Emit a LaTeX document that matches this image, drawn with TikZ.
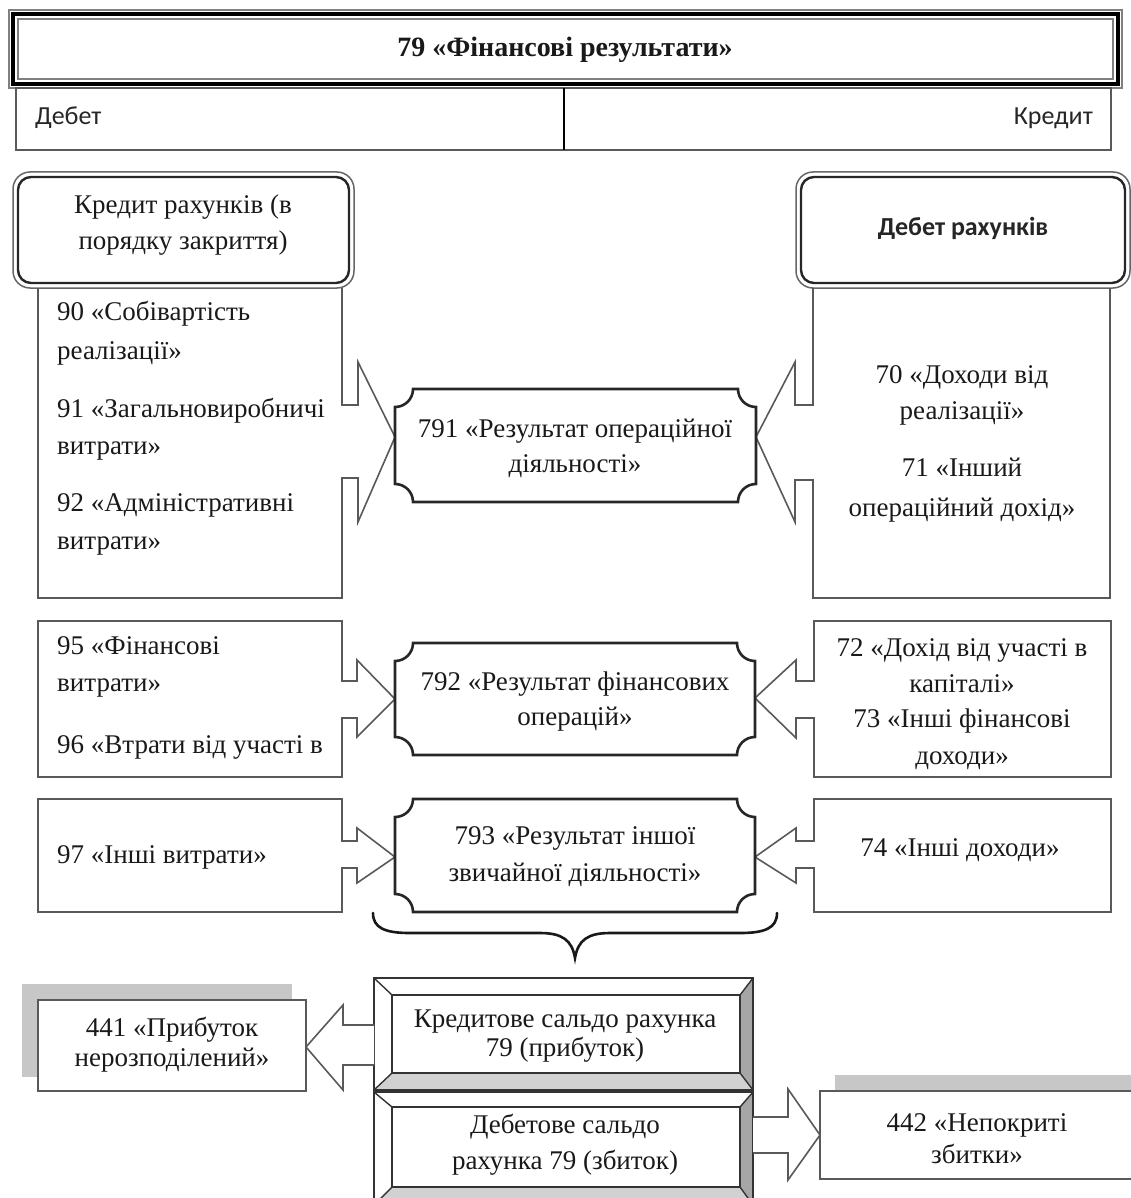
\documentclass[tikz,border=0pt]{standalone}
\usepackage{fontspec}
\setmainfont{Liberation Serif}
\newfontfamily\sansf{Carlito}
\usetikzlibrary{calc}
\newcommand\plaqbox[4]{%
 \draw[plq] ({#1+18},#2) -- ({#3-18},#2) .. controls ({#3-18},{#2+10}) and ({#3-10},{#2+18}) .. (#3,{#2+18})
  -- (#3,{#4-18}) .. controls ({#3-10},{#4-18}) and ({#3-18},{#4-10}) .. ({#3-18},#4)
  -- ({#1+18},#4) .. controls ({#1+18},{#4-10}) and ({#1+10},{#4-18}) .. (#1,{#4-18})
  -- (#1,{#2+18}) .. controls ({#1+10},{#2+18}) and ({#1+18},{#2+10}) .. ({#1+18},#2) -- cycle;}
\begin{document}
\begin{tikzpicture}[x=1pt,y=-1pt,
  ln/.style={draw=black!65, line width=1.6pt},
  plq/.style={draw=black!85, line width=2.6pt, fill=white},
  tx/.style={font=\fontsize{27}{37}\selectfont, text=black!90, inner sep=0pt},
  txc/.style={tx, align=center},
  txl/.style={tx, align=left, anchor=west},
  sns/.style={font=\sansf\fontsize{26}{30}\selectfont, text=black!85, inner sep=0pt},
  bev/.style={draw=black!80, line width=1.4pt},
]
\useasboundingbox (0,0) rectangle (1131,1198);
\clip (0,0) rectangle (1131,1198);

% ---- title frame
\draw[black!50, line width=1.5pt] (9,10) rectangle (1122,88);
\draw[black, line width=3.2pt] (13,14) rectangle (1118,84);
\draw[black!50, line width=1.4pt] (18,19) rectangle (1113,79);
\node[tx, font=\bfseries\fontsize{28}{32}\selectfont] (title) at (565,50) {79 «Фінансові результати»};

% ---- debit / credit row
\draw[ln] (16,88) rectangle (1111,150);
\draw[black, line width=2.4pt] (564,88) -- (564,150);
\node[sns, anchor=west] (deb) at (35,118) {Дебет};
\node[sns, anchor=east] (kred) at (1093,118) {Кредит};

% ---- column headers
\draw[black!60, line width=1.5pt, rounded corners=17] (13,172) rectangle (354,288);
\draw[black!85, line width=2.4pt, rounded corners=13] (18,177) rectangle (349,283);
\node[txc, font=\fontsize{27}{36}\selectfont] (lhead) at (183,225) {Кредит рахунків (в\\порядку закриття)};
\draw[black!60, line width=1.5pt, rounded corners=17] (796,172) rectangle (1130,288);
\draw[black!85, line width=2.4pt, rounded corners=13] (801,177) rectangle (1125,283);
\node[sns, font=\sansf\bfseries\fontsize{26}{30}\selectfont] (rhead) at (963,228) {Дебет рахунків};

% ---- row 1
\draw[ln] (342,288) -- (342,405) -- (358,405) -- (358,362) -- (395,437) -- (358,522) -- (358,478) -- (342,478) -- (342,598) -- (38,598) -- (38,288);
\draw[ln] (813,288) -- (813,405) -- (795,405) -- (795,362) -- (756,437) -- (795,522) -- (795,480) -- (813,480) -- (813,598) -- (1110,598) -- (1110,288);
\plaqbox{395}{389}{756}{502}
\node[txc, font=\fontsize{27}{35}\selectfont] (p791) at (575,448) {791 «Результат операційної\\діяльності»};
\node[txl, font=\fontsize{27}{39}\selectfont] (a90) at (57,333) {90 «Собівартість\\реалізації»};
\node[txl] (a91) at (57,429) {91 «Загальновиробничі\\витрати»};
\node[txl, font=\fontsize{27}{38}\selectfont] (a92) at (57,524) {92 «Адміністративні\\витрати»};
\node[txc, font=\fontsize{27}{36}\selectfont] (a70) at (962,395) {70 «Доходи від\\реалізації»};
\node[txc, font=\fontsize{27}{40}\selectfont] (a71) at (962,490) {71 «Інший\\операційний дохід»};

% ---- row 2
\draw[ln] (38,621) -- (342,621) -- (342,681) -- (357,681) -- (357,660) -- (395,699) -- (357,737) -- (357,718) -- (342,718) -- (342,777) -- (38,777) -- cycle;
\draw[ln] (1111,621) -- (814,621) -- (814,681) -- (796,681) -- (796,660) -- (755,698) -- (796,738) -- (796,718) -- (814,718) -- (814,777) -- (1111,777) -- cycle;
\plaqbox{395}{643}{755}{755}
\node[txc, font=\fontsize{27}{35}\selectfont] (p792) at (575,701) {792 «Результат фінансових\\операцій»};
\node[txl] (a95) at (57,667) {95 «Фінансові\\витрати»};
\node[txl] (a96) at (57,747) {96 «Втрати від участі в};
\node[txc, font=\fontsize{27}{36}\selectfont] (a72) at (962,666) {72 «Дохід від участі в\\капіталі»};
\node[txc, font=\fontsize{27}{37}\selectfont] (a73) at (962,739) {73 «Інші фінансові\\доходи»};

% ---- row 3
\draw[ln] (38,799) -- (342,799) -- (342,841) -- (357,841) -- (357,828) -- (395,857) -- (357,883) -- (357,868) -- (342,868) -- (342,912) -- (38,912) -- cycle;
\draw[ln] (1111,799) -- (814,799) -- (814,841) -- (796,841) -- (796,828) -- (755,857) -- (796,883) -- (796,868) -- (814,868) -- (814,912) -- (1111,912) -- cycle;
\plaqbox{395}{799}{755}{912}
\node[txc] (p793) at (575,857) {793 «Результат іншої\\звичайної діяльності»};
\node[txl] (a97) at (57,857) {97 «Інші витрати»};
\node[tx] (a74) at (960,850) {74 «Інші доходи»};

% ---- brace
\draw[black!90, line width=2.6pt, line cap=round] (373,913) .. controls (373,928) and (385,933) .. (410,933) -- (540,933) .. controls (562,933) and (572,940) .. (575,958) .. controls (578,940) and (588,933) .. (610,933) -- (740,933) .. controls (765,933) and (777,928) .. (777,913);

% ---- bevel boxes
\fill[white] (374,978) rectangle (753,1090);
\fill[black!35] (753,978) -- (753,1090) -- (740,1073) -- (740,995) -- cycle;
\fill[black!18] (374,1090) -- (753,1090) -- (740,1073) -- (392,1073) -- cycle;
\draw[bev] (374,978) rectangle (753,1090);
\draw[bev] (392,995) rectangle (740,1073);
\draw[bev] (374,978) -- (392,995) (753,978) -- (740,995) (374,1090) -- (392,1073) (753,1090) -- (740,1073);
\node[txc, font=\fontsize{27}{29}\selectfont] (kbal) at (565,1036) {Кредитове сальдо рахунка\\79 (прибуток)};

\fill[white] (374,1092) rectangle (753,1205);
\fill[black!35] (753,1092) -- (753,1205) -- (740,1187) -- (740,1107) -- cycle;
\fill[black!18] (374,1205) -- (753,1205) -- (740,1187) -- (392,1187) -- cycle;
\draw[bev] (374,1092) rectangle (753,1205);
\draw[bev] (392,1107) rectangle (740,1187);
\draw[bev] (374,1092) -- (392,1107) (753,1092) -- (740,1107) (374,1205) -- (392,1187) (753,1205) -- (740,1187);
\node[txc, font=\fontsize{27}{36}\selectfont] (dbal) at (565,1145) {Дебетове сальдо\\рахунка 79 (збиток)};

% ---- 441
\fill[black!22] (22,984) rectangle (292,1077);
\draw[ln, fill=white] (38,1000) rectangle (306,1091);
\node[txc, font=\fontsize{27}{30}\selectfont] (a441) at (172,1045) {441 «Прибуток\\нерозподілений»};
\draw[ln, fill=white] (374,1025) -- (343,1025) -- (343,1005) -- (306,1047) -- (343,1090) -- (343,1065) -- (374,1065);

% ---- 442
\fill[black!22] (835,1075) rectangle (1140,1160);
\draw[ln, fill=white] (820,1091) rectangle (1140,1179);
\node[txc, font=\fontsize{27}{32}\selectfont] (a442) at (977,1139) {442 «Непокриті\\збитки»};
\draw[ln, fill=white] (753,1117) -- (788,1117) -- (788,1089) -- (820,1135) -- (788,1180) -- (788,1153) -- (753,1153);
\end{tikzpicture}
\end{document}
